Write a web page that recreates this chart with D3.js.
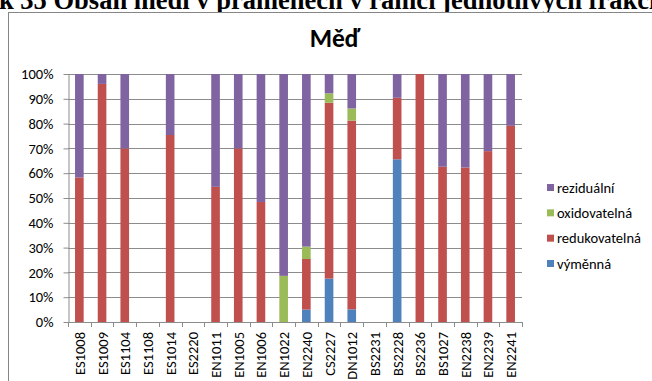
<!DOCTYPE html>
<html>
<head>
<meta charset="utf-8">
<script src="https://cdn.jsdelivr.net/npm/d3@7/dist/d3.min.js"></script>
<style>
  html, body { margin: 0; padding: 0; background: #fff; }
  svg { display: block; }
  .lbl { font-family: Carlito, Calibri, Lato, sans-serif; fill: #000; }
</style>
</head>
<body>
<svg id="chart" width="652" height="381"></svg>
<script>
// Sampling sites
const categories = ["ES1008","ES1009","ES1104","ES1108","ES1014","ES2220","EN1011","EN1005","EN1006","EN1022",
                    "EN2240","CS2227","DN1012","BS2231","BS2228","BS2236","BS1027","EN2238","EN2239","EN2241"];

// Copper fractions per site (% of total)
const vymenna       = [0, 0, 0, 0, 0, 0, 0, 0, 0, 0, 5.0, 17.5, 5.1, 0, 65.6, 0, 0, 0, 0, 0];
const redukovatelna = [58.3, 96.0, 70.0, 0, 75.4, 0, 54.5, 70.0, 48.4, 0, 20.4, 70.9, 76.1, 0, 24.8, 100, 62.6, 62.3, 68.9, 79.1];
const oxidovatelna  = [0, 0, 0, 0, 0, 0, 0, 0, 0, 18.6, 5.0, 3.8, 4.9, 0, 0, 0, 0, 0, 0, 0];
const rezidualni    = [41.7, 4.0, 30.0, 0, 24.6, 0, 45.5, 30.0, 51.6, 81.4, 69.6, 7.8, 13.9, 0, 9.6, 0, 37.4, 37.7, 31.1, 20.9];

const seriesNames = ["výměnná", "redukovatelná", "oxidovatelná", "reziduální"];
const seriesData  = [vymenna, redukovatelna, oxidovatelna, rezidualni];
const colors      = ["#4F81BD", "#C0504D", "#9BBB59", "#8064A2"];
const yTicks      = [0, 0.1, 0.2, 0.3, 0.4, 0.5, 0.6, 0.7, 0.8, 0.9, 1.0];

const chartTitle = "Měď";
const captionText = "Obrázek 35 Obsah mědi v pramenech v rámci jednotlivých frakcí";

const svg = d3.select("#chart");

// Document caption above the chart frame (runs past the page edges)
const cap = svg.append("text")
  .attr("y", 8.5)
  .style("font-family", "'Liberation Serif', 'Times New Roman', serif")
  .style("font-weight", "bold")
  .style("font-size", "26.5px")
  .text(captionText);
const hiddenLen = cap.node().getSubStringLength(0, 6);
cap.attr("x", -hiddenLen - 1);

// Chart frame
svg.append("rect")
  .attr("x", 8.5).attr("y", 12.5)
  .attr("width", 700).attr("height", 400)
  .attr("fill", "#fff")
  .attr("stroke", "#868686").attr("stroke-width", 1);

// Table rows for stacking
const table = categories.map((c, i) => {
  const row = { site: c };
  seriesNames.forEach((s, k) => row[s] = seriesData[k][i]);
  return row;
});

const stacked = d3.stack().keys(seriesNames).offset(d3.stackOffsetExpand)(table);

const plotL = 68, plotR = 522, plotT = 74, plotB = 322;

const x = d3.scaleBand().domain(categories).range([plotL, plotR]).paddingInner(0.62).paddingOuter(0.31);
const xCell = d3.scaleBand().domain(categories).range([plotL, plotR]);
const y = d3.scaleLinear().domain([0, 1]).range([plotB, plotT]);

// Horizontal gridlines
svg.append("g").selectAll("line")
  .data(yTicks.filter(t => t > 0))
  .join("line")
  .attr("x1", plotL).attr("x2", plotR)
  .attr("y1", d => Math.round(y(d)) + 0.5).attr("y2", d => Math.round(y(d)) + 0.5)
  .attr("stroke", "#8c8c8c").attr("stroke-width", 1);

// Stacked bars
svg.append("g").selectAll("g")
  .data(stacked)
  .join("g")
  .attr("fill", (d, i) => colors[i])
  .selectAll("rect")
  .data(d => d)
  .join("rect")
  .attr("x", d => x(d.data.site))
  .attr("width", x.bandwidth())
  .attr("y", d => y(d[1]))
  .attr("height", d => Math.max(0, y(d[0]) - y(d[1])));

// Y axis
const yAxis = svg.append("g")
  .attr("transform", `translate(${plotL + 0.5},0)`)
  .call(d3.axisLeft(y).tickValues(yTicks).tickFormat(d3.format(".0%")).tickSize(5).tickSizeOuter(0));
yAxis.select(".domain").attr("stroke", "#8c8c8c");
yAxis.selectAll(".tick line").attr("stroke", "#8c8c8c");
yAxis.selectAll(".tick text")
  .attr("class", "lbl")
  .attr("x", -15)
  .style("font-size", "14.5px");

// X axis baseline with tick marks between categories
const xg = svg.append("g");
xg.append("line")
  .attr("x1", plotL).attr("x2", plotR)
  .attr("y1", plotB + 0.5).attr("y2", plotB + 0.5)
  .attr("stroke", "#8c8c8c");
const bounds = categories.map(c => xCell(c)).concat([plotR]);
xg.selectAll("line.tk")
  .data(bounds)
  .join("line")
  .attr("class", "tk")
  .attr("x1", d => Math.round(d) + 0.5).attr("x2", d => Math.round(d) + 0.5)
  .attr("y1", plotB).attr("y2", plotB + 5)
  .attr("stroke", "#8c8c8c");
xg.selectAll("text.cat")
  .data(categories)
  .join("text")
  .attr("class", "lbl cat")
  .attr("transform", d => `translate(${x(d) + x.bandwidth() / 2 + 5.5},${plotB + 10}) rotate(-90)`)
  .attr("text-anchor", "end")
  .style("font-size", "14.5px")
  .text(d => d);

// Title
svg.append("text")
  .attr("class", "lbl")
  .attr("x", 335).attr("y", 47)
  .attr("text-anchor", "middle")
  .style("font-size", "25.5px")
  .style("font-weight", "bold")
  .text(chartTitle);

// Legend (top-down order is reversed stacking order)
const legendItems = seriesNames.map((n, i) => ({ name: n, color: colors[i] })).reverse();
const lg = svg.append("g").attr("transform", "translate(547,0)");
const ly = d3.scalePoint().domain(legendItems.map(d => d.name)).range([187.5, 263.5]);
lg.selectAll("rect")
  .data(legendItems)
  .join("rect")
  .attr("x", 0).attr("y", d => ly(d.name) - 3.5)
  .attr("width", 7).attr("height", 7)
  .attr("fill", d => d.color);
lg.selectAll("text")
  .data(legendItems)
  .join("text")
  .attr("class", "lbl")
  .attr("x", 10).attr("y", d => ly(d.name) + 5)
  .style("font-size", "14.5px")
  .text(d => d.name);
</script>
</body>
</html>
